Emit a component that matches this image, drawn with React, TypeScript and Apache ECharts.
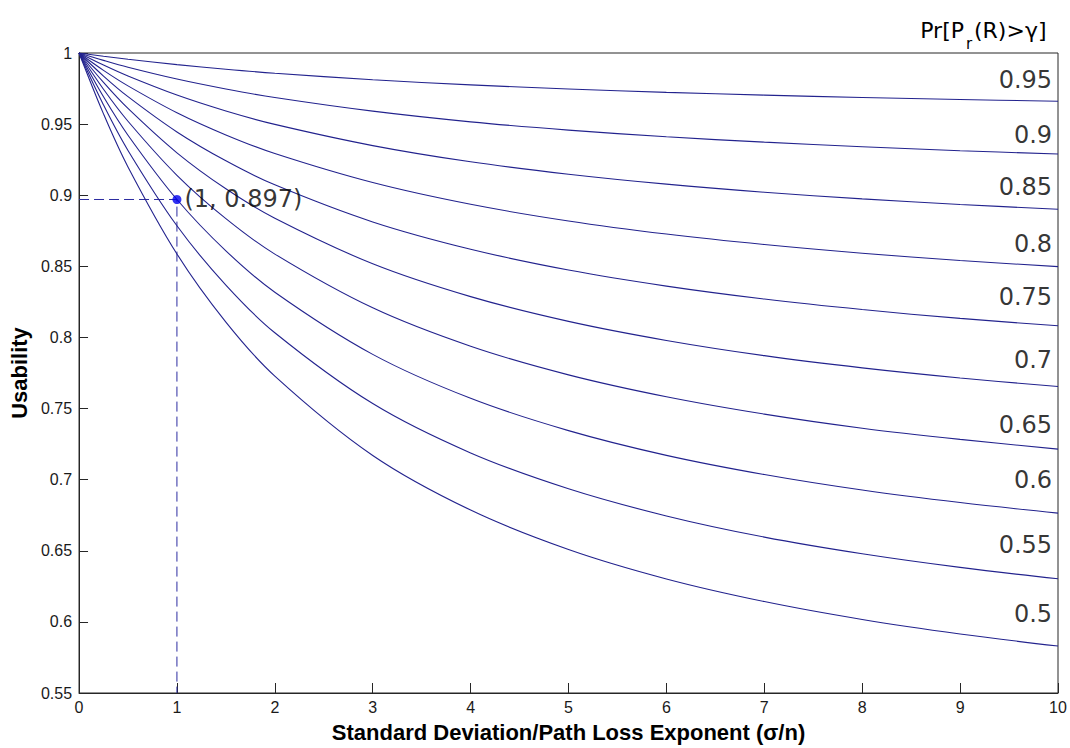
import React, { useEffect, useRef } from "react";
import * as echarts from "echarts";

// sigma/n sample positions read along the x axis
const xs = [0, 0.25, 0.5, 1, 1.5, 2, 3, 4, 5, 6, 7, 8, 9, 10];

// Usability curves, one per Pr[Pr(R) > gamma]
const u095 = [1, 0.9977, 0.9956, 0.9918, 0.9886, 0.9858, 0.9812, 0.9776, 0.9747, 0.9723, 0.9704, 0.9687, 0.9673, 0.9661];
const u090 = [1, 0.9948, 0.9900, 0.9817, 0.9747, 0.9687, 0.9591, 0.9516, 0.9458, 0.9411, 0.9373, 0.9341, 0.9313, 0.9290];
const u085 = [1, 0.9915, 0.9838, 0.9704, 0.9592, 0.9498, 0.9349, 0.9235, 0.9148, 0.9078, 0.9021, 0.8974, 0.8935, 0.8901];
const u080 = [1, 0.9878, 0.9769, 0.9580, 0.9424, 0.9293, 0.9089, 0.8936, 0.8819, 0.8727, 0.8653, 0.8592, 0.8541, 0.8498];
const u075 = [1, 0.9838, 0.9693, 0.9445, 0.9242, 0.9073, 0.8812, 0.8620, 0.8474, 0.8361, 0.8270, 0.8196, 0.8134, 0.8082];
const u070 = [1, 0.9793, 0.9610, 0.9298, 0.9045, 0.8838, 0.8518, 0.8287, 0.8113, 0.7979, 0.7872, 0.7786, 0.7715, 0.7655];
const u065 = [1, 0.9745, 0.9520, 0.9140, 0.8835, 0.8586, 0.8208, 0.7938, 0.7737, 0.7583, 0.7461, 0.7362, 0.7283, 0.7215];
const u060 = [1, 0.9692, 0.9422, 0.8970, 0.8609, 0.8318, 0.7881, 0.7572, 0.7345, 0.7171, 0.7036, 0.6927, 0.6839, 0.6765];
const u055 = [1, 0.9635, 0.9315, 0.8785, 0.8368, 0.8033, 0.7535, 0.7188, 0.6936, 0.6745, 0.6596, 0.6479, 0.6383, 0.6303];
const u050 = [1, 0.9572, 0.9199, 0.8587, 0.8108, 0.7728, 0.7170, 0.6786, 0.6509, 0.6302, 0.6143, 0.6017, 0.5915, 0.5830];

const curves = [u095, u090, u085, u080, u075, u070, u065, u060, u055, u050];
const curveNames = ["0.95", "0.9", "0.85", "0.8", "0.75", "0.7", "0.65", "0.6", "0.55", "0.5"];

// where the curve names are written (data coordinates, right edge)
const curveLabelX = 9.94;
const curveLabelY = [0.981, 0.942, 0.9055, 0.8656, 0.8286, 0.7839, 0.7385, 0.700, 0.6539, 0.6057];

// highlighted point
const markX = 1;
const markY = 0.897;
const yMin = 0.55;

const LINE = "#23238e";

export default function App() {
  const ref = useRef<HTMLDivElement>(null);
  useEffect(() => {
    if (!ref.current) return;
    const chart = echarts.init(ref.current, null, { renderer: "svg" });
    const curveSeries = curves.map((ys, k) => ({
      name: curveNames[k],
      type: "line",
      data: xs.map((x, i) => [x, ys[i]]),
      showSymbol: false,
      symbol: "none",
      smooth: 0.35,
      silent: true,
      lineStyle: { color: LINE, width: 1.1 },
      z: 3,
    }));
    const option: any = {
      animation: false,
      backgroundColor: "#ffffff",
      grid: {
        left: 77,
        top: 53,
        right: 12,
        bottom: 51,
        show: true,
        borderColor: "#262626",
        borderWidth: 1,
        backgroundColor: "transparent",
      },
      xAxis: {
        type: "value",
        min: 0,
        max: 10,
        interval: 1,
        name: "Standard Deviation/Path Loss Exponent (\u03c3/n)",
        nameLocation: "middle",
        nameGap: 28,
        nameTextStyle: {
          fontSize: 22,
          fontWeight: "bold",
          fontFamily: "Liberation Sans, Arial, sans-serif",
          color: "#000",
        },
        axisLine: { show: true, lineStyle: { color: "#262626", width: 1 } },
        axisTick: { show: true, inside: true, length: 10, lineStyle: { color: "#262626" } },
        splitLine: { show: false },
        axisLabel: {
          fontSize: 16,
          fontFamily: "Liberation Sans, Arial, sans-serif",
          color: "#1a1a1a",
          margin: 6,
        },
      },
      yAxis: {
        type: "value",
        min: yMin,
        max: 1,
        interval: 0.05,
        name: "Usability",
        nameLocation: "middle",
        nameGap: 44,
        nameTextStyle: {
          fontSize: 22,
          fontWeight: "bold",
          fontFamily: "Liberation Sans, Arial, sans-serif",
          color: "#000",
        },
        axisLine: { show: true, lineStyle: { color: "#262626", width: 1 } },
        axisTick: { show: true, inside: true, length: 9, lineStyle: { color: "#262626" } },
        splitLine: { show: false },
        axisLabel: {
          fontSize: 16,
          fontFamily: "Liberation Sans, Arial, sans-serif",
          color: "#1a1a1a",
          margin: 7,
          formatter: (v: number) => String(parseFloat(v.toFixed(2))),
        },
      },
      series: [
        ...curveSeries,
        {
          type: "line",
          data: [
            [0, markY],
            [markX, markY],
            [markX, yMin],
          ],
          showSymbol: false,
          symbol: "none",
          silent: true,
          lineStyle: { color: "#2b2ba0", width: 1, type: [10, 5] },
          z: 2,
        },
        {
          type: "scatter",
          data: [[markX, markY]],
          symbolSize: 9,
          silent: true,
          itemStyle: { color: "#0000ee" },
          label: {
            show: true,
            position: "right",
            distance: 3,
            formatter: "(1, 0.897)",
            fontSize: 24,
            fontFamily: "DejaVu Sans, sans-serif",
            color: "#000",
          },
          z: 5,
        },
        {
          type: "scatter",
          data: curveLabelY.map((y, k) => [curveLabelX, y, curveNames[k]]),
          symbolSize: 0.1,
          silent: true,
          itemStyle: { color: "transparent" },
          label: {
            show: true,
            position: "left",
            distance: 0,
            formatter: (p: any) => p.value[2],
            fontSize: 24,
            fontFamily: "DejaVu Sans, sans-serif",
            color: "#000",
          },
          z: 5,
        },
      ],
      graphic: [
        {
          type: "text",
          x: 964,
          y: 30,
          style: {
            text: "Pr[P",
            fontSize: 22,
            fontFamily: "DejaVu Sans, sans-serif",
            fill: "#000",
            align: "right",
            verticalAlign: "middle",
          },
        },
        {
          type: "text",
          x: 966,
          y: 44,
          style: {
            text: "r",
            fontSize: 15,
            fontFamily: "DejaVu Sans, sans-serif",
            fill: "#000",
            align: "left",
            verticalAlign: "middle",
          },
        },
        {
          type: "text",
          x: 974,
          y: 30,
          style: {
            text: "(R)>\u03b3]",
            fontSize: 22,
            fontFamily: "DejaVu Sans, sans-serif",
            fill: "#000",
            align: "left",
            verticalAlign: "middle",
          },
        },
      ],
    };
    chart.setOption(option);
    return () => chart.dispose();
  }, []);
  return (
    <div
      ref={ref}
      style={{ position: "absolute", left: 0, top: 0, width: 1070, height: 748, background: "#fff" }}
    />
  );
}
